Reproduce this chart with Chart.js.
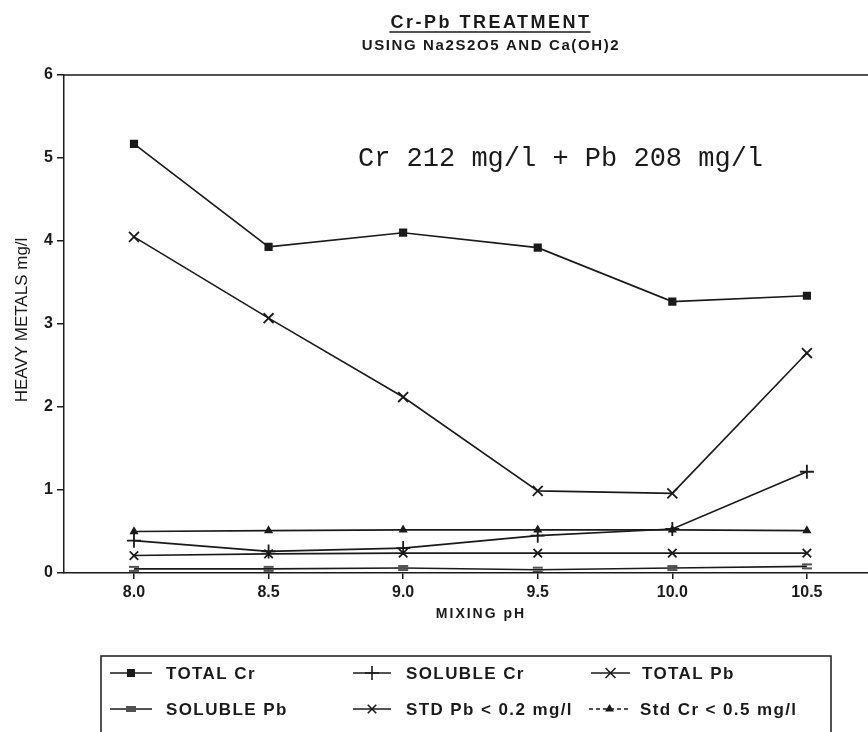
<!DOCTYPE html>
<html><head><meta charset="utf-8">
<script src="https://cdn.jsdelivr.net/npm/chart.js@4.4.1/dist/chart.umd.min.js"></script>
<style>html,body{margin:0;padding:0;background:#fff}#wrap{width:868px;height:732px;position:relative}</style>
</head><body><div id="wrap"><canvas id="c" width="868" height="732"></canvas></div>
<script>
const mixingPH = [8.0, 8.5, 9.0, 9.5, 10.0, 10.5];
const totalCr = [5.17, 3.93, 4.10, 3.92, 3.27, 3.34];
const solubleCr = [0.39, 0.26, 0.30, 0.45, 0.53, 1.22];
const totalPb = [4.05, 3.07, 2.12, 0.99, 0.96, 2.65];
const solublePb = [0.05, 0.05, 0.06, 0.04, 0.06, 0.08];
const stdPb = [0.21, 0.23, 0.24, 0.24, 0.24, 0.24];
const stdCr = [0.50, 0.51, 0.52, 0.52, 0.52, 0.51];
const xTicks = [8.0, 8.5, 9.0, 9.5, 10.0, 10.5];
const yTicks = [0, 1, 2, 3, 4, 5, 6];
const seriesNames = ['TOTAL Cr','SOLUBLE Cr','TOTAL Pb','SOLUBLE Pb','STD Pb < 0.2 mg/l','Std Cr < 0.5 mg/l'];

const INK = '#1a1a1a';
function eqMarker(){
  const c=document.createElement('canvas');c.width=12;c.height=10;
  const g=c.getContext('2d');g.strokeStyle=INK;g.lineWidth=1.6;
  g.beginPath();g.moveTo(1,3);g.lineTo(11,3);g.moveTo(1,7);g.lineTo(11,7);g.stroke();return c;
}
const eq = eqMarker();
const pts = arr => arr.map((v,i)=>({x:mixingPH[i], y:v}));
const styles = [
  {pointStyle:'rect', radius:4.5},
  {pointStyle:'cross', radius:7},
  {pointStyle:'crossRot', radius:7},
  {pointStyle:eq, radius:6},
  {pointStyle:'crossRot', radius:6},
  {pointStyle:'triangle', radius:3.5}
];
const allData = [totalCr, solubleCr, totalPb, solublePb, stdPb, stdCr];
const datasets = allData.map((d,i)=>({
  label: seriesNames[i], data: pts(d),
  borderColor: INK, backgroundColor: INK, borderWidth: 1.6,
  pointStyle: styles[i].pointStyle, pointRadius: styles[i].radius,
  pointBorderColor: INK, pointBackgroundColor: INK, pointBorderWidth: 1.8,
  tension: 0, fill: false
}));

const decor = {
  id:'decor',
  afterDraw(chart){
    const ctx=chart.ctx, a=chart.chartArea;
    ctx.save();
    ctx.strokeStyle=INK; ctx.lineWidth=1.5;
    ctx.beginPath(); ctx.moveTo(a.left,a.top); ctx.lineTo(a.right,a.top); ctx.stroke();
    // titles
    ctx.fillStyle=INK; ctx.textAlign='center'; ctx.textBaseline='alphabetic';
    ctx.font='bold 18px "Liberation Sans", Arial, sans-serif';
    ctx.letterSpacing='2.5px';
    ctx.fillText('Cr-Pb TREATMENT', 491, 28);
    const w=ctx.measureText('Cr-Pb TREATMENT').width;
    ctx.lineWidth=1.6; ctx.beginPath(); ctx.moveTo(490-w/2,32); ctx.lineTo(490+w/2,32); ctx.stroke();
    ctx.font='bold 15px "Liberation Sans", Arial, sans-serif';
    ctx.letterSpacing='1.6px';
    ctx.fillText('USING Na2S2O5 AND Ca(OH)2', 491, 50);
    // axis titles
    ctx.font='bold 14px "Liberation Sans", Arial, sans-serif';
    ctx.letterSpacing='2px';
    ctx.fillText('MIXING pH', 481, 618);
    ctx.letterSpacing='0px';
    ctx.save(); ctx.translate(27,320); ctx.rotate(-Math.PI/2);
    ctx.font='17px "Liberation Sans", Arial, sans-serif';
    ctx.fillText('HEAVY METALS mg/l',0,0); ctx.restore();
    // annotation
    ctx.font='27px "Liberation Mono", monospace';
    ctx.textAlign='left';
    ctx.fillText('Cr 212 mg/l + Pb 208 mg/l', 358, 166);
    // legend box
    ctx.lineWidth=1.5;
    ctx.beginPath(); ctx.moveTo(101,732); ctx.lineTo(101,656); ctx.lineTo(831,656); ctx.lineTo(831,732); ctx.stroke();
    const items=[
      {i:0,x0:110,x1:152,tx:166,y:673},
      {i:1,x0:353,x1:391,tx:406,y:673},
      {i:2,x0:591,x1:630,tx:642,y:673},
      {i:3,x0:110,x1:152,tx:166,y:709},
      {i:4,x0:353,x1:391,tx:406,y:709},
      {i:5,x0:589,x1:630,tx:640,y:709}
    ];
    ctx.font='bold 17px "Liberation Sans", Arial, sans-serif';
    ctx.letterSpacing='1.4px';
    items.forEach(it=>{
      const ds=chart.data.datasets[it.i];
      ctx.strokeStyle=INK; ctx.lineWidth=1.6;
      ctx.setLineDash(it.i===5?[4,3]:[]);
      ctx.beginPath(); ctx.moveTo(it.x0,it.y); ctx.lineTo(it.x1,it.y); ctx.stroke();
      ctx.setLineDash([]);
      Chart.helpers.drawPoint(ctx,{pointStyle:ds.pointStyle,radius:ds.pointRadius,borderWidth:1.8,rotation:0},(it.x0+it.x1)/2,it.y);
      ctx.fillStyle=INK; ctx.textBaseline='middle';
      ctx.fillText(ds.label,it.tx,it.y+1);
    });
    ctx.restore();
  }
};

new Chart(document.getElementById('c'),{
  type:'line',
  data:{datasets},
  options:{
    responsive:false, animation:false, devicePixelRatio:1,
    layout:{autoPadding:false,padding:{top:75,left:0,right:0,bottom:0}},
    plugins:{legend:{display:false},tooltip:{enabled:false},title:{display:false}},
    scales:{
      x:{type:'linear',min:7.74,max:10.727,
        afterBuildTicks:s=>{s.ticks=xTicks.map(v=>({value:v}));},
        afterFit:s=>{s.height=159;},
        ticks:{color:INK,font:{family:'"Liberation Sans", Arial',size:16,weight:'bold'},padding:4,callback:v=>Number(v).toFixed(1),autoSkip:false,maxRotation:0},
        grid:{display:true,drawOnChartArea:false,drawTicks:true,tickLength:6,color:INK,lineWidth:1.5},
        border:{display:true,color:INK,width:1.5},
        title:{display:false}
      },
      y:{type:'linear',min:0,max:6,
        afterBuildTicks:s=>{s.ticks=yTicks.map(v=>({value:v}));},
        afterFit:s=>{s.width=64;},
        ticks:{color:INK,font:{family:'"Liberation Sans", Arial',size:16,weight:'bold'},padding:4},
        grid:{display:true,drawOnChartArea:false,drawTicks:true,tickLength:7,color:INK,lineWidth:1.5},
        border:{display:true,color:INK,width:1.5},
        title:{display:false}
      }
    }
  },
  plugins:[decor]
});
</script></body></html>
